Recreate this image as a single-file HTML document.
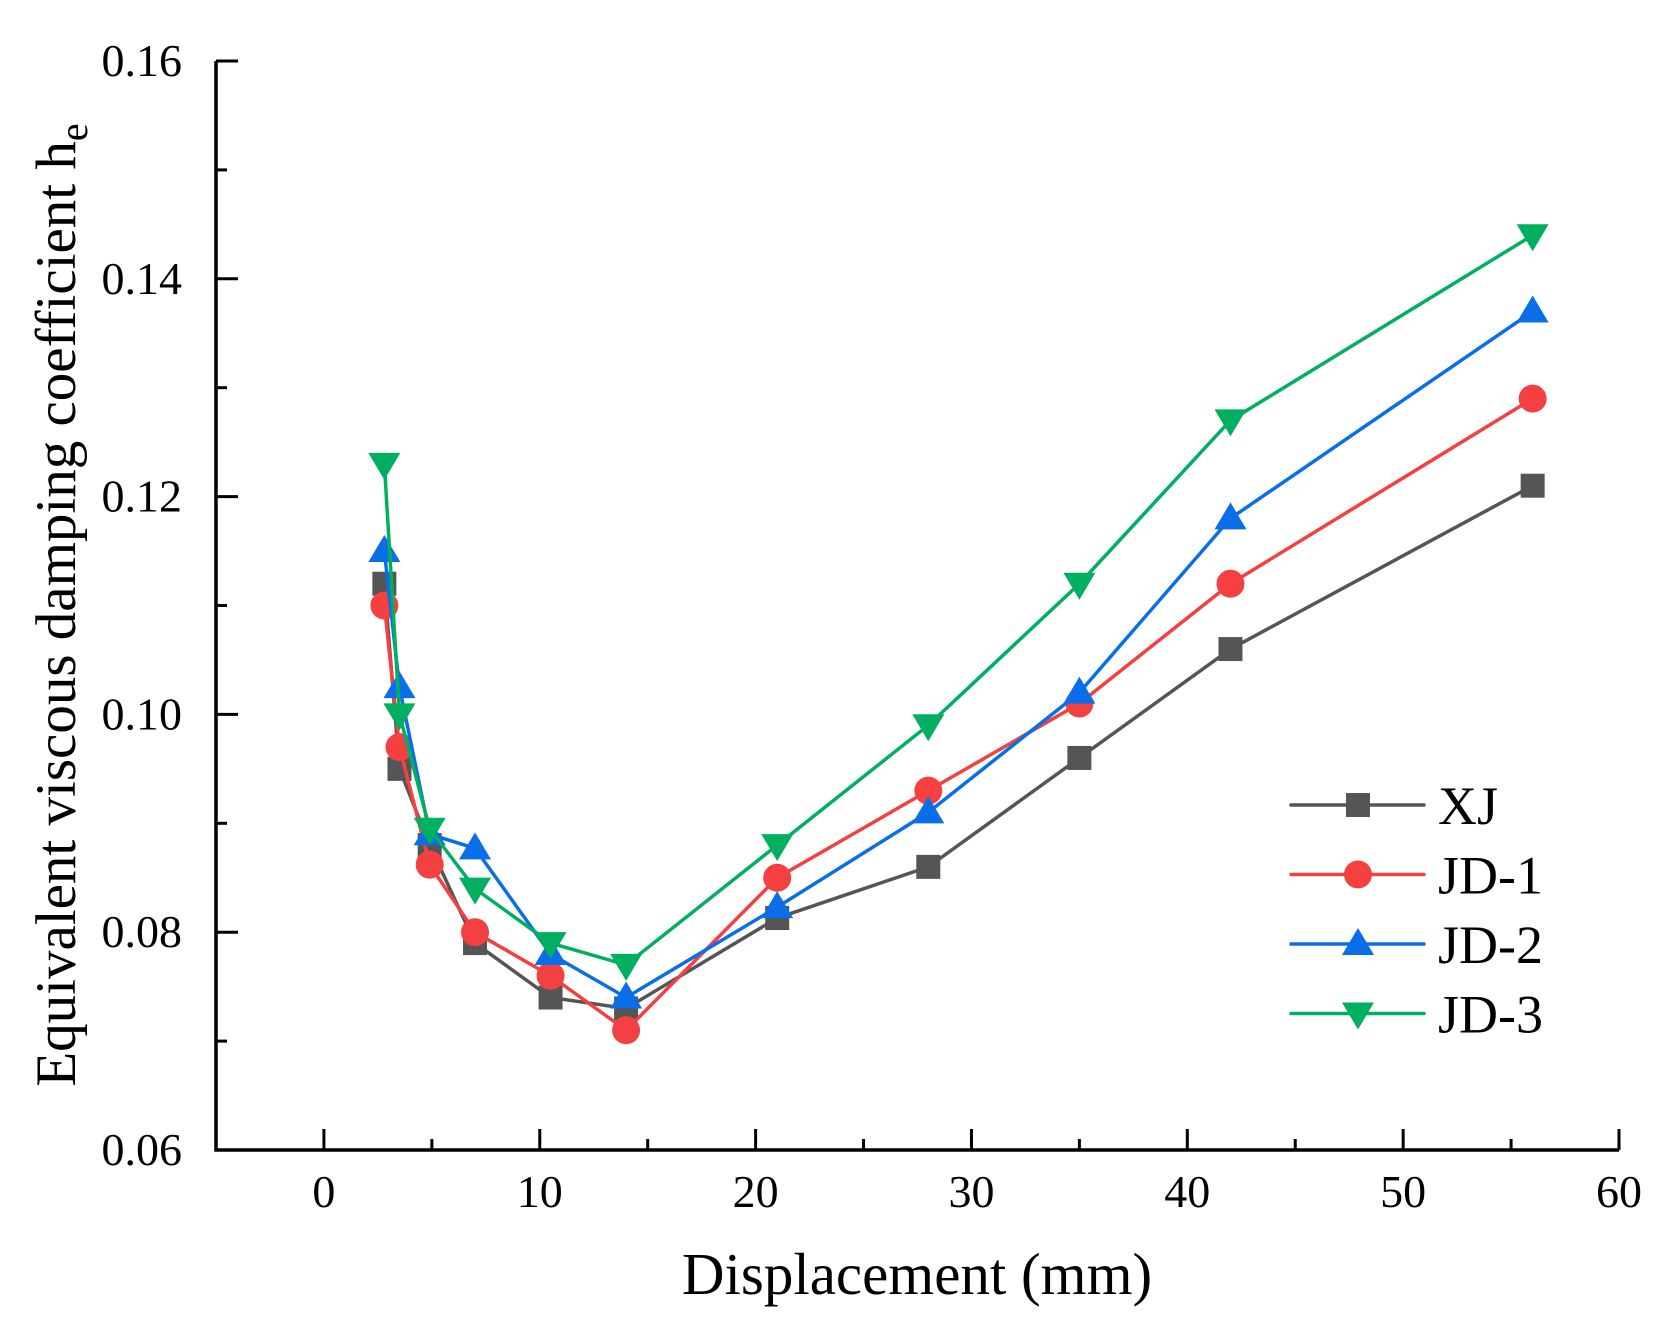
<!DOCTYPE html>
<html><head><meta charset="utf-8"><style>
body{margin:0;background:#fff}
svg text{font-family:"Liberation Serif",serif;fill:#000}
</style></head><body>
<svg id="chart" width="1670" height="1326" xmlns="http://www.w3.org/2000/svg">
<g id="plot"></g>
<text x="917" y="1294" font-size="59" text-anchor="middle">Displacement (mm)</text>
<text transform="translate(75,605) rotate(-90)" font-size="57" text-anchor="middle">Equivalent viscous damping coefficient h<tspan font-size="40" dy="12">e</tspan></text>
</svg>
<script>
const xTicks=[0,10,20,30,40,50,60];
const yTicks=[0.06,0.08,0.10,0.12,0.14,0.16];
const yTickLabels=["0.06","0.08","0.10","0.12","0.14","0.16"];
const xValues=[2.8,3.5,4.9,7,10.5,14,21,28,35,42,56];
const seriesNames=["XJ","JD-1","JD-2","JD-3"];
const xjValues=[0.112,0.095,0.088,0.079,0.074,0.073,0.0813,0.086,0.096,0.106,0.121];
const jd1Values=[0.110,0.097,0.0862,0.080,0.076,0.071,0.085,0.093,0.101,0.112,0.129];
const jd2Values=[0.115,0.1025,0.089,0.0877,0.078,0.074,0.0823,0.091,0.102,0.118,0.137];
const jd3Values=[0.123,0.100,0.0895,0.084,0.079,0.077,0.088,0.099,0.112,0.127,0.144];
const NS="http://www.w3.org/2000/svg";
const L=216,R=1619,T=61,B=1150;
const xMin=-5,xMax=60,yMin=0.06,yMax=0.16;
function xs(v){return L+(v-xMin)/(xMax-xMin)*(R-L);}
function ys(v){return B-(v-yMin)/(yMax-yMin)*(B-T);}
const plot=document.getElementById('plot');
function mk(tag,attrs,parent){const e=document.createElementNS(NS,tag);for(const k in attrs)e.setAttribute(k,attrs[k]);(parent||plot).appendChild(e);return e;}
const colors=["#555555","#f44040","#0a6ee8","#00b060"];
const all=[xjValues,jd1Values,jd2Values,jd3Values];
const shapes=["square","circle","up","down"];
function marker(shape,x,y,c){
 let e;
 if(shape==="square")e=mk('rect',{x:x-12,y:y-12,width:24,height:24,fill:c});
 else if(shape==="circle")e=mk('circle',{cx:x,cy:y,r:14,fill:c});
 else if(shape==="up")e=mk('polygon',{points:`${x},${y-16} ${x-16},${y+11} ${x+16},${y+11}`,fill:c});
 else e=mk('polygon',{points:`${x},${y+16} ${x-16},${y-11} ${x+16},${y-11}`,fill:c});
 return e;
}
all.forEach((vals,si)=>{
 const g=mk('g',{});
 
 
 const pl=mk('polyline',{points:vals.map((v,i)=>xs(xValues[i])+','+ys(v)).join(' '),fill:'none',stroke:colors[si],'stroke-width':3.5,'stroke-linejoin':'round'},g);
 
 
 vals.forEach((v,i)=>{
  const m=marker(shapes[si],xs(xValues[i]),ys(v),colors[si]);
  g.appendChild(m);
  
  
 });
});
const ax=mk('path',{d:`M${L},${T} L${L},${B} L${R},${B}`,fill:'none',stroke:'#000','stroke-width':3.5});


for(let v=xMin;v<=xMax;v+=5){
 if(v===xMin)continue;
 const major=v%10===0;
 const t=mk('line',{x1:xs(v),x2:xs(v),y1:B,y2:B-(major?21:11),stroke:'#000','stroke-width':3});
 
 
}
xTicks.forEach(v=>{
 const t=mk('text',{x:xs(v),y:1207,'font-size':46,'text-anchor':'middle'});
 t.textContent=String(v);
 
 
});
yTicks.forEach((v,i)=>{
 const t=mk('line',{x1:L,x2:L+22,y1:ys(v),y2:ys(v),stroke:'#000','stroke-width':3});
 
 
 if(i<yTicks.length-1){
  const m=mk('line',{x1:L,x2:L+11,y1:ys(v+0.01),y2:ys(v+0.01),stroke:'#000','stroke-width':3});
  
  
 }
 const lb=mk('text',{x:182,y:ys(v)+15,'font-size':46,'text-anchor':'end'});
 lb.textContent=yTickLabels[i];
 
 
});
const lg=mk('g',{});


seriesNames.forEach((n,i)=>{
 const y=805+i*69.5;
 const e=mk('g',{},lg);
 
 
 mk('line',{x1:1291,x2:1424,y1:y,y2:y,stroke:colors[i],'stroke-width':3.5,'stroke-linecap':'round'},e);
 e.appendChild(marker(shapes[i],1358,y,colors[i]));
 const t=mk('text',{x:1438,y:y+19,'font-size':54},e);
 t.textContent=n;
});
</script>
</body></html>
